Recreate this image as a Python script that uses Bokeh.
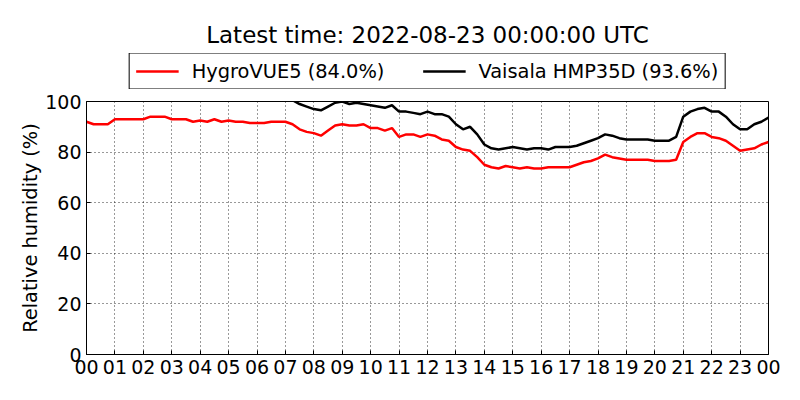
from bokeh.plotting import figure
from bokeh.layouts import column
from bokeh.models import Range1d, Legend, LegendItem
from bokeh.embed import file_html
from bokeh.resources import INLINE

hours = [i * 0.25 for i in range(97)]

hygrovue5 = [
    92, 91, 91, 91, 93, 93, 93, 93, 93, 94, 94, 94,
    93, 93, 93, 92, 92.5, 92, 93, 92, 92.5, 92, 92, 91.5,
    91.5, 91.5, 92, 92, 92, 91, 89, 88, 87.5, 86.5, 88.5, 90.5,
    91, 90.5, 90.5, 91, 89.5, 89.5, 88.5, 89.5, 86, 87, 87, 86,
    87, 86.5, 85, 84.5, 82, 81, 80.5, 78, 75, 74, 73.5, 74.5,
    74, 73.5, 74, 73.5, 73.5, 74, 74, 74, 74, 75, 76, 76.5,
    77.5, 79, 78, 77.5, 77, 77, 77, 77, 76.5, 76.5, 76.5, 77,
    84, 86, 87.5, 87.5, 86, 85.5, 84.5, 82.5, 80.5, 81, 81.5, 83,
    84,
]

hmp35d = [
    101, 101, 101, 101, 101, 101, 101, 101, 101, 101, 101, 101,
    101, 101, 101, 101, 101, 101, 101, 101, 101, 101, 101, 101,
    101, 101, 101, 101, 101, 100.5, 99, 98, 97, 96.5, 98, 99.5,
    100, 99, 99.5, 99, 98.5, 98, 97.5, 98.5, 96, 96, 95.5, 95,
    96, 95, 95, 94, 91, 89, 90, 87, 83, 81.5, 81, 81.5,
    82, 81.5, 81, 81.5, 81.5, 81, 82, 82, 82, 82.5, 83.5, 84.5,
    85.5, 87, 86.5, 85.5, 85, 85, 85, 85, 84.5, 84.5, 84.5, 86,
    94, 96, 97, 97.5, 96, 96, 94, 91, 89, 89, 91, 92,
    93.6,
]

tick_hours = list(range(25))
tick_labels = ["00", "01", "02", "03", "04", "05", "06", "07", "08", "09",
               "10", "11", "12", "13", "14", "15", "16", "17", "18", "19",
               "20", "21", "22", "23", "00"]
y_ticks = [0, 20, 40, 60, 80, 100]

title_text = "Latest time: 2022-08-23 00:00:00 UTC"
label_red = "HygroVUE5 (84.0%)"
label_black = "Vaisala HMP35D (93.6%)"

FONT = "DejaVu Sans"
RED_LW = 2.5
BLACK_LW = 2.5

# ---- header figure: title + legend ----
top = figure(width=800, height=89, output_backend="svg", toolbar_location=None,
             x_range=Range1d(0, 1), y_range=Range1d(0, 1),
             min_border_left=86, min_border_right=32, min_border_top=53,
             min_border_bottom=0)
top.axis.visible = False
top.grid.visible = False
top.outline_line_color = None
top.background_fill_color = "white"
top.border_fill_color = "white"
top.title.text = title_text
top.title.align = "center"
top.title.text_font = FONT
top.title.text_font_size = "23px"
top.title.text_font_style = "normal"
top.title.text_color = "black"
top.title.standoff = 11

# legend keys: same series, hidden in the header (its ranges do not show them)
k1 = top.line(hours, hygrovue5, line_color="red", line_width=RED_LW, visible=False)
k2 = top.line(hours, hmp35d, line_color="black", line_width=BLACK_LW, visible=False)

legend = Legend(items=[LegendItem(label=label_red, renderers=[k1]),
                       LegendItem(label=label_black, renderers=[k2])],
                orientation="horizontal", location="center")
legend.label_text_font = FONT
legend.label_text_font_size = "19.4px"
legend.label_text_color = "black"
legend.glyph_width = 43
legend.glyph_height = 23
legend.label_standoff = 13
legend.label_height = 23
legend.spacing = 38
legend.padding = 6
legend.margin = 0
legend.border_line_color = "black"
legend.border_line_width = 1
legend.border_line_alpha = 1
legend.background_fill_color = "white"
legend.background_fill_alpha = 1
legend.inactive_fill_alpha = 0
legend.click_policy = "none"
top.add_layout(legend, "center")

# ---- main figure ----
p = figure(width=800, height=311, output_backend="svg", toolbar_location=None,
           x_range=Range1d(0, 24), y_range=Range1d(0, 100),
           min_border_left=86, min_border_right=32, min_border_bottom=46,
           min_border_top=12)

p.background_fill_color = "white"
p.border_fill_color = "white"
p.outline_line_color = "black"
p.outline_line_width = 1

p.line(hours, hygrovue5, line_color="red", line_width=RED_LW)
p.line(hours, hmp35d, line_color="black", line_width=BLACK_LW)

p.xaxis.ticker = tick_hours
p.xaxis.major_label_overrides = {h: lab for h, lab in zip(tick_hours, tick_labels)}
p.yaxis.ticker = y_ticks

for ax in (p.xaxis, p.yaxis):
    ax.major_label_text_font = FONT
    ax.major_label_text_font_size = "19px"
    ax.major_label_text_color = "black"
    ax.axis_line_color = "black"
    ax.major_tick_in = 4
    ax.major_tick_out = 0
    ax.major_tick_line_color = "black"
    ax.minor_tick_line_color = None
    ax.major_label_standoff = 5

p.yaxis.axis_label = "Relative humidity (%)"
p.yaxis.axis_label_text_font = FONT
p.yaxis.axis_label_text_font_size = "19.4px"
p.yaxis.axis_label_text_font_style = "normal"
p.yaxis.axis_label_text_color = "black"
p.yaxis.axis_label_standoff = 0

p.xgrid.grid_line_color = "black"
p.ygrid.grid_line_color = "black"
p.xgrid.grid_line_dash = "1 3"
p.ygrid.grid_line_dash = "1 3"
p.xgrid.grid_line_alpha = 0.8
p.ygrid.grid_line_alpha = 0.8

layout = column(top, p, spacing=0)
open("out.html", "w").write(file_html(layout, INLINE))
